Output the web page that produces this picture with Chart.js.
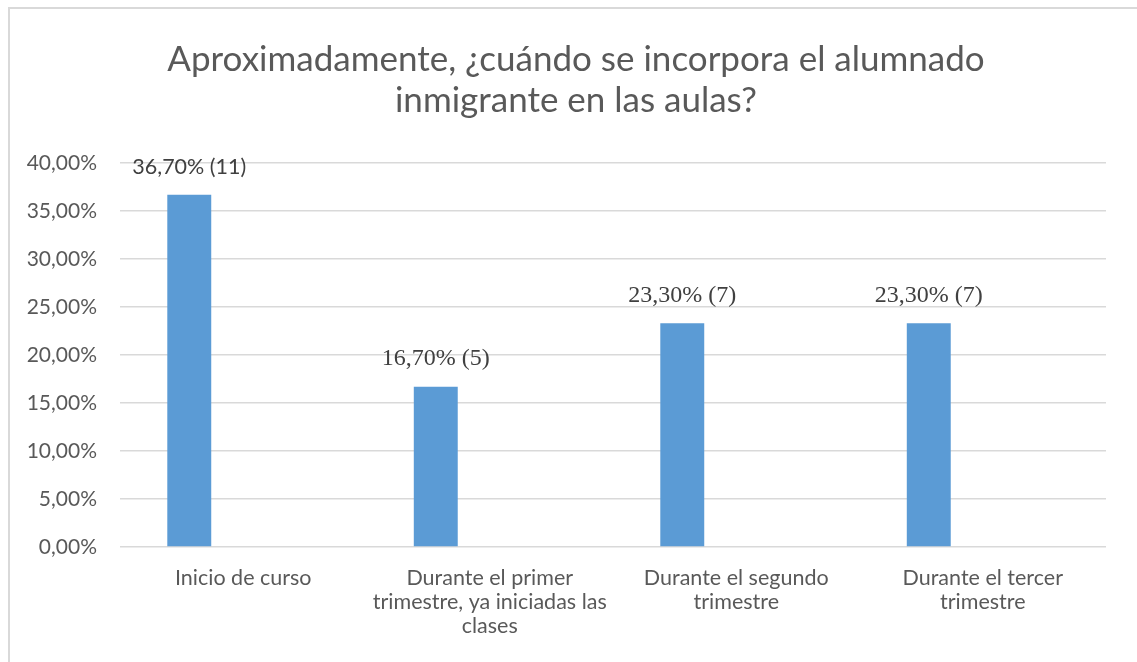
<!DOCTYPE html>
<html>
<head>
<meta charset="UTF-8">
<title>Incorporación del alumnado inmigrante</title>
<script src="https://cdn.jsdelivr.net/npm/chart.js@4/dist/chart.umd.min.js"></script>
<style>
  html, body { margin: 0; padding: 0; background: #fff; }
  #wrap { position: relative; width: 1137px; height: 662px; }
  #frame { position: absolute; left: 8px; top: 7px; right: 0; bottom: 0;
           border-top: 2px solid #d9d9d9; border-left: 2px solid #d9d9d9; }
  canvas { position: absolute; left: 0; top: 0; }
</style>
</head>
<body>
<div id="wrap">
  <div id="frame"></div>
  <canvas id="myChart" width="1137" height="662"></canvas>
</div>
<script>
  var categories = [
    'Inicio de curso',
    ['Durante el primer', 'trimestre, ya iniciadas las', 'clases'],
    ['Durante el segundo', 'trimestre'],
    ['Durante el tercer', 'trimestre']
  ];
  var porcentajes = [36.7, 16.7, 23.3, 23.3];
  var respuestas = [11, 5, 7, 7];
  var vacia = [null, null, null, null];
  var yTicks = [0, 5, 10, 15, 20, 25, 30, 35, 40];
  var titulo = ['Aproximadamente, ¿cuándo se incorpora el alumnado', 'inmigrante en las aulas?'];

  var gris = '#595959';
  var sans = 'Lato, "Open Sans", sans-serif';

  function pct(v) {
    return v.toFixed(2).replace('.', ',') + '%';
  }

  // title drawn by hand so it sits where we want it
  var tituloPlugin = {
    id: 'tituloPlugin',
    afterDraw: function (chart) {
      var ctx = chart.ctx;
      ctx.save();
      ctx.fillStyle = gris;
      ctx.font = '35px ' + sans;
      ctx.textAlign = 'center';
      ctx.textBaseline = 'middle';
      titulo.forEach(function (line, i) {
        ctx.fillText(line, 576, 60 + i * 41);
      });
      ctx.restore();
    }
  };

  // value labels above each bar
  var etiquetas = {
    id: 'etiquetas',
    afterDatasetsDraw: function (chart) {
      var ctx = chart.ctx;
      var meta = chart.getDatasetMeta(0);
      ctx.save();
      ctx.textAlign = 'center';
      ctx.textBaseline = 'middle';
      ctx.fillStyle = '#404040';
      meta.data.forEach(function (bar, i) {
        if (i === 0) {
          ctx.font = '21.5px ' + sans;
        } else {
          ctx.font = '24px "Liberation Serif", "Times New Roman", serif';
        }
        ctx.fillText(pct(porcentajes[i]) + ' (' + respuestas[i] + ')', bar.x, bar.y - 28);
      });
      ctx.restore();
    }
  };

  var ctx = document.getElementById('myChart');
  var myChart = new Chart(ctx, {
    type: 'bar',
    data: {
      labels: categories,
      datasets: [{
        label: 'Porcentaje',
        data: porcentajes,
        backgroundColor: '#5b9bd5',
        categoryPercentage: 0.876,
        barPercentage: 0.407
      }, {
        label: '',
        data: vacia,
        backgroundColor: '#ed7d31',
        categoryPercentage: 0.876,
        barPercentage: 0.407
      }]
    },
    options: {
      responsive: false,
      animation: false,
      layout: { padding: { left: 0, right: 31, top: 163, bottom: 0 } },
      plugins: {
        legend: { display: false },
        tooltip: { enabled: false }
      },
      scales: {
        x: {
          grid: { display: false, drawTicks: false },
          border: { display: false },
          ticks: {
            color: gris,
            font: { family: sans, size: 21.5, lineHeight: 1.12 },
            padding: 19,
            maxRotation: 0,
            autoSkip: false
          },
          afterFit: function (scale) { scale.height = 115; }
        },
        y: {
          min: 0,
          max: 40,
          afterBuildTicks: function (scale) {
            scale.ticks = yTicks.map(function (v) { return { value: v }; });
          },
          grid: { color: '#d9d9d9', lineWidth: 1.5, drawTicks: false },
          border: { display: false },
          ticks: {
            color: gris,
            font: { family: sans, size: 21 },
            padding: 23,
            callback: function (v) { return pct(v); }
          },
          afterFit: function (scale) { scale.width = 120; }
        }
      }
    },
    plugins: [etiquetas, tituloPlugin]
  });
</script>
</body>
</html>
